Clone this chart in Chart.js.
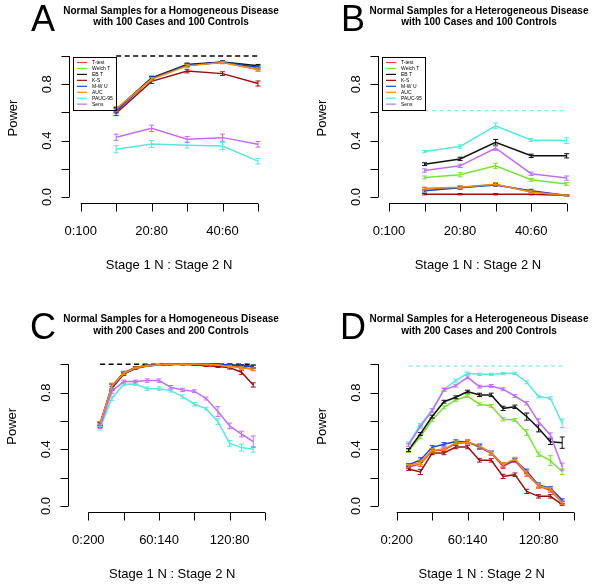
<!DOCTYPE html>
<html>
<head>
<meta charset="utf-8">
<script src="https://cdn.jsdelivr.net/npm/chart.js@4.4.1/dist/chart.umd.min.js"></script>
<style>
  html, body { margin: 0; padding: 0; background: #fff; }
  #wrap { position: relative; width: 600px; height: 588px; }
  canvas { position: absolute; }
</style>
</head>
<body>
<div id="wrap">
  <canvas id="cA" width="300" height="294" style="left:0;top:0"></canvas>
  <canvas id="cB" width="300" height="294" style="left:300px;top:0"></canvas>
  <canvas id="cC" width="300" height="294" style="left:0;top:294px"></canvas>
  <canvas id="cD" width="300" height="294" style="left:300px;top:294px"></canvas>
</div>
<script>
const methods = ['T-test', 'Welch T', 'EB T', 'K-S', 'M-W U', 'AUC', 'PAUC-95', 'Sens'];
const colors = ['#EE4040', '#7CE03C', '#111111', '#9B1111', '#2040D0', '#F08C10', '#5CE6DC', '#C070F0'];

// stage 1 sample sizes
const stage100 = [10, 20, 30, 40, 50];
const stage200 = [10, 20, 30, 40, 50, 60, 70, 80, 90, 100, 110, 120, 130, 140];

const ticks100 = [0, 10, 20, 30, 40, 50];
const labelAt100 = [0, 20, 40];
const labelText100 = ['0:100', '20:80', '40:60'];
const ticks200 = [0, 30, 60, 90, 120, 150];
const labelAt200 = [0, 60, 120];
const labelText200 = ['0:200', '60:140', '120:80'];
const yTicks = [0, 0.2, 0.4, 0.6, 0.8, 1.0];
const yLabelAt = [0, 0.4, 0.8];
const yLabelText = ['0.0', '0.4', '0.8'];

// power, one row per method (same order as methods)
const powerA = [
  [0.615, 0.840, 0.935, 0.955, 0.905],
  [0.615, 0.840, 0.935, 0.955, 0.915],
  [0.620, 0.845, 0.940, 0.958, 0.930],
  [0.595, 0.820, 0.893, 0.875, 0.805],
  [0.610, 0.840, 0.935, 0.955, 0.920],
  [0.625, 0.835, 0.930, 0.953, 0.905],
  [0.339, 0.376, 0.367, 0.362, 0.254],
  [0.424, 0.487, 0.409, 0.421, 0.374]
];
const errA = [
  [0.015, 0.012, 0.010, 0.008, 0.012],
  [0.015, 0.012, 0.010, 0.008, 0.012],
  [0.015, 0.012, 0.010, 0.008, 0.010],
  [0.018, 0.015, 0.013, 0.013, 0.018],
  [0.015, 0.012, 0.010, 0.008, 0.012],
  [0.016, 0.012, 0.010, 0.008, 0.012],
  [0.025, 0.025, 0.020, 0.025, 0.020],
  [0.022, 0.022, 0.020, 0.025, 0.020]
];
const powerB = [
  [0.058, 0.068, 0.088, 0.038, 0.012],
  [0.139, 0.158, 0.221, 0.122, 0.092],
  [0.233, 0.270, 0.388, 0.292, 0.292],
  [0.020, 0.020, 0.020, 0.020, 0.010],
  [0.045, 0.065, 0.085, 0.045, 0.010],
  [0.060, 0.070, 0.090, 0.035, 0.010],
  [0.322, 0.358, 0.504, 0.405, 0.400],
  [0.188, 0.221, 0.346, 0.165, 0.134]
];
const errB = [
  [0.010, 0.010, 0.012, 0.010, 0.005],
  [0.010, 0.015, 0.018, 0.010, 0.010],
  [0.010, 0.012, 0.020, 0.012, 0.015],
  [0.005, 0.005, 0.005, 0.005, 0.003],
  [0.010, 0.010, 0.010, 0.010, 0.005],
  [0.010, 0.010, 0.012, 0.010, 0.005],
  [0.008, 0.012, 0.020, 0.010, 0.020],
  [0.012, 0.012, 0.015, 0.012, 0.015]
];
const powerC = [
  [0.580, 0.840, 0.935, 0.975, 0.990, 0.996, 1.0, 1.0, 1.0, 1.0, 0.998, 0.990, 0.980, 0.965],
  [0.575, 0.840, 0.935, 0.975, 0.990, 0.996, 1.0, 1.0, 1.0, 1.0, 0.998, 0.995, 0.990, 0.985],
  [0.580, 0.845, 0.940, 0.978, 0.992, 0.997, 1.0, 1.0, 1.0, 1.0, 0.999, 0.996, 0.990, 0.985],
  [0.565, 0.830, 0.930, 0.970, 0.988, 0.995, 0.998, 0.998, 0.995, 0.990, 0.985, 0.976, 0.944, 0.854],
  [0.575, 0.840, 0.935, 0.975, 0.990, 0.996, 1.0, 1.0, 1.0, 1.0, 0.998, 0.993, 0.990, 0.982],
  [0.585, 0.845, 0.937, 0.975, 0.990, 0.996, 1.0, 1.0, 1.0, 0.998, 0.995, 0.985, 0.975, 0.965],
  [0.548, 0.760, 0.859, 0.861, 0.828, 0.828, 0.814, 0.772, 0.718, 0.687, 0.595, 0.442, 0.412, 0.400],
  [0.560, 0.810, 0.878, 0.878, 0.885, 0.885, 0.838, 0.819, 0.810, 0.758, 0.666, 0.565, 0.508, 0.454]
];
const errC = [
  [0.012, 0.020, 0.010, 0.006, 0.004, 0.003, 0.002, 0.002, 0.002, 0.003, 0.004, 0.006, 0.008, 0.010],
  [0.012, 0.020, 0.010, 0.006, 0.004, 0.003, 0.002, 0.002, 0.002, 0.003, 0.004, 0.006, 0.008, 0.010],
  [0.012, 0.020, 0.010, 0.006, 0.004, 0.003, 0.002, 0.002, 0.002, 0.003, 0.004, 0.006, 0.008, 0.010],
  [0.012, 0.015, 0.010, 0.006, 0.004, 0.003, 0.003, 0.003, 0.004, 0.006, 0.008, 0.010, 0.015, 0.015],
  [0.012, 0.020, 0.010, 0.006, 0.004, 0.003, 0.002, 0.002, 0.002, 0.003, 0.004, 0.006, 0.008, 0.010],
  [0.012, 0.020, 0.010, 0.006, 0.004, 0.003, 0.002, 0.002, 0.002, 0.003, 0.004, 0.006, 0.008, 0.010],
  [0.012, 0.015, 0.010, 0.010, 0.012, 0.012, 0.010, 0.012, 0.012, 0.010, 0.020, 0.020, 0.025, 0.020],
  [0.012, 0.015, 0.010, 0.010, 0.012, 0.012, 0.012, 0.012, 0.010, 0.010, 0.035, 0.020, 0.020, 0.040]
];
const powerD = [
  [0.275, 0.295, 0.390, 0.395, 0.440, 0.450, 0.415, 0.370, 0.280, 0.320, 0.225, 0.140, 0.110, 0.025],
  [0.388, 0.489, 0.607, 0.696, 0.748, 0.776, 0.718, 0.706, 0.612, 0.607, 0.518, 0.365, 0.320, 0.242],
  [0.395, 0.508, 0.631, 0.736, 0.767, 0.807, 0.784, 0.784, 0.689, 0.700, 0.631, 0.548, 0.454, 0.447],
  [0.261, 0.240, 0.374, 0.374, 0.416, 0.416, 0.322, 0.322, 0.209, 0.221, 0.103, 0.068, 0.068, 0.010],
  [0.289, 0.325, 0.414, 0.435, 0.455, 0.454, 0.419, 0.376, 0.289, 0.325, 0.245, 0.148, 0.125, 0.042],
  [0.284, 0.308, 0.392, 0.402, 0.445, 0.450, 0.425, 0.374, 0.291, 0.332, 0.233, 0.143, 0.120, 0.021],
  [0.442, 0.572, 0.678, 0.824, 0.885, 0.936, 0.929, 0.929, 0.934, 0.936, 0.873, 0.772, 0.760, 0.584],
  [0.431, 0.560, 0.673, 0.819, 0.849, 0.908, 0.842, 0.847, 0.824, 0.776, 0.725, 0.595, 0.501, 0.278]
];
const errD = [
  [0.010, 0.015, 0.012, 0.012, 0.012, 0.012, 0.015, 0.012, 0.015, 0.012, 0.015, 0.015, 0.012, 0.008],
  [0.010, 0.015, 0.010, 0.010, 0.010, 0.010, 0.010, 0.010, 0.012, 0.010, 0.020, 0.015, 0.035, 0.020],
  [0.010, 0.010, 0.010, 0.010, 0.010, 0.010, 0.012, 0.012, 0.015, 0.012, 0.025, 0.025, 0.020, 0.040],
  [0.010, 0.018, 0.012, 0.012, 0.012, 0.012, 0.012, 0.012, 0.015, 0.012, 0.015, 0.012, 0.012, 0.005],
  [0.010, 0.015, 0.012, 0.012, 0.012, 0.012, 0.015, 0.012, 0.015, 0.012, 0.015, 0.015, 0.012, 0.008],
  [0.010, 0.015, 0.012, 0.012, 0.012, 0.012, 0.015, 0.012, 0.015, 0.012, 0.015, 0.015, 0.012, 0.008],
  [0.010, 0.010, 0.010, 0.010, 0.010, 0.008, 0.008, 0.008, 0.008, 0.008, 0.010, 0.010, 0.010, 0.030],
  [0.012, 0.010, 0.012, 0.010, 0.010, 0.010, 0.010, 0.010, 0.010, 0.010, 0.012, 0.020, 0.015, 0.025]
];

// dashed reference level per panel
const refA = 1.0, refB = 0.612, refC = 1.0, refD = 0.988;

const FONT = '"Liberation Sans", Arial, sans-serif';

// R-style axes, error bars, titles and legend
const rStyle = {
  id: 'rStyle',
  afterDatasetDraw(chart, args) {
    const ds = chart.data.datasets[args.index];
    if (!ds.err) return;
    const x = chart.scales.x, y = chart.scales.y, ctx = chart.ctx;
    ctx.save();
    ctx.strokeStyle = ds.borderColor;
    ctx.lineWidth = 1;
    ds.data.forEach((p, i) => {
      const px = x.getPixelForValue(p.x);
      const lo = y.getPixelForValue(p.y - ds.err[i]);
      const hi = y.getPixelForValue(p.y + ds.err[i]);
      ctx.beginPath();
      ctx.moveTo(px, lo); ctx.lineTo(px, hi);
      ctx.moveTo(px - 2.5, lo); ctx.lineTo(px + 2.5, lo);
      ctx.moveTo(px - 2.5, hi); ctx.lineTo(px + 2.5, hi);
      ctx.stroke();
    });
    ctx.restore();
  },
  afterDraw(chart, args, o) {
    const ctx = chart.ctx, x = chart.scales.x, y = chart.scales.y, a = chart.chartArea;
    ctx.save();
    ctx.strokeStyle = '#000';
    ctx.fillStyle = '#000';
    ctx.lineWidth = 1;

    // x axis
    const xb = Math.round(a.bottom) + 0.5;
    ctx.beginPath();
    ctx.moveTo(x.getPixelForValue(o.xTicks[0]), xb);
    ctx.lineTo(x.getPixelForValue(o.xTicks[o.xTicks.length - 1]), xb);
    o.xTicks.forEach(t => {
      const p = Math.round(x.getPixelForValue(t)) + 0.5;
      ctx.moveTo(p, xb); ctx.lineTo(p, xb + 8);
    });
    // y axis
    const yl = Math.round(a.left) + 0.5;
    ctx.moveTo(yl, y.getPixelForValue(yTicks[0]));
    ctx.lineTo(yl, y.getPixelForValue(yTicks[yTicks.length - 1]));
    yTicks.forEach(t => {
      const p = Math.round(y.getPixelForValue(t)) + 0.5;
      ctx.moveTo(yl, p); ctx.lineTo(yl - 8, p);
    });
    ctx.stroke();

    ctx.font = '13px ' + FONT;
    ctx.textAlign = 'center';
    ctx.textBaseline = 'middle';
    o.labelAt.forEach((v, i) => ctx.fillText(o.labelText[i], x.getPixelForValue(v), xb + 28));
    ctx.fillText('Stage 1 N : Stage 2 N', (a.left + a.right) / 2 + 2, xb + 62);

    yLabelAt.forEach((v, i) => {
      ctx.save();
      ctx.translate(yl - 22, y.getPixelForValue(v));
      ctx.rotate(-Math.PI / 2);
      ctx.fillText(yLabelText[i], 0, 0);
      ctx.restore();
    });
    ctx.save();
    ctx.translate(yl - 56, 118 + o.dy);
    ctx.rotate(-Math.PI / 2);
    ctx.fillText('Power', 0, 0);
    ctx.restore();

    // titles
    ctx.font = 'bold 10px ' + FONT;
    ctx.fillText(o.title[0], o.titleX, 11 + o.dy);
    ctx.fillText(o.title[1], o.titleX, 22.5 + o.dy);
    ctx.font = '36px ' + FONT;
    ctx.fillText(o.letter, o.letterX, 21 + o.dy);

    // legend
    if (o.legend) {
      const bx = yl + 3.5, by = 57 + o.dy, bw = 43, bh = 53;
      ctx.strokeRect(Math.round(bx) + 0.5, Math.round(by) + 0.5, bw, bh);
      ctx.font = '5px ' + FONT;
      ctx.textAlign = 'left';
      methods.forEach((m, i) => {
        const ry = by + 5.5 + i * 5.95;
        ctx.strokeStyle = colors[i];
        ctx.lineWidth = 1.2;
        ctx.beginPath();
        ctx.moveTo(bx + 4, ry); ctx.lineTo(bx + 14, ry);
        ctx.stroke();
        ctx.fillText(m, bx + 19, ry);
      });
    }
    ctx.restore();
  }
};

function makePanel(id, xs, power, err, ref, refColor, scale, pad, opts) {
  const datasets = methods.map((m, i) => ({
    label: m,
    data: xs.map((v, j) => ({ x: v, y: power[i][j] })),
    err: err[i],
    borderColor: colors[i],
    borderWidth: 1.5,
    pointRadius: 0,
    fill: false,
    tension: 0,
    order: methods.length - i
  }));
  datasets.push({
    label: 'reference',
    data: [{ x: xs[0], y: ref }, { x: xs[xs.length - 1], y: ref }],
    borderColor: refColor,
    borderWidth: refColor === '#000000' ? 1.4 : 1.1,
    borderDash: refColor === '#000000' ? [5, 3.5] : [4, 3.5],
    pointRadius: 0,
    order: 100
  });
  new Chart(document.getElementById(id), {
    type: 'line',
    data: { datasets },
    options: {
      responsive: false,
      animation: false,
      layout: { padding: pad },
      scales: {
        x: { type: 'linear', min: scale[0], max: scale[1], display: false },
        y: { min: scale[2], max: scale[3], display: false }
      },
      plugins: {
        legend: { display: false },
        tooltip: { enabled: false },
        rStyle: opts
      }
    },
    plugins: [rStyle]
  });
}

makePanel('cA', stage100, powerA, errA, refA, '#000000',
  [-3.3, 52.0, -0.0447, 1.0397],
  { left: 69, right: 34.9, top: 50.4, bottom: 90.7 },
  { xTicks: ticks100, labelAt: labelAt100, labelText: labelText100, dy: 0,
    title: ['Normal Samples for a Homogeneous Disease', 'with 100 Cases and 100 Controls'],
    titleX: 171, letter: 'A', letterX: 43, legend: true });

makePanel('cB', stage100, powerB, errB, refB, '#5CE6DC',
  [-3.1, 52.0, -0.0447, 1.0397],
  { left: 78, right: 26.2, top: 50.4, bottom: 90.7 },
  { xTicks: ticks100, labelAt: labelAt100, labelText: labelText100, dy: 0,
    title: ['Normal Samples for a Heterogeneous Disease', 'with 100 Cases and 100 Controls'],
    titleX: 179, letter: 'B', letterX: 53, legend: true });

makePanel('cC', stage200, powerC, errC, refC, '#000000',
  [-17.0, 156, -0.0402, 1.04],
  { left: 68.3, right: 27.9, top: 64.6, bottom: 76.3 },
  { xTicks: ticks200, labelAt: labelAt200, labelText: labelText200, dy: 14.3,
    title: ['Normal Samples for a Homogeneous Disease', 'with 200 Cases and 200 Controls'],
    titleX: 171, letter: 'C', letterX: 43, legend: false });

makePanel('cD', stage200, powerD, errD, refD, '#5CE6DC',
  [-15.57, 156, -0.0402, 1.04],
  { left: 78.3, right: 18.9, top: 64.6, bottom: 76.3 },
  { xTicks: ticks200, labelAt: labelAt200, labelText: labelText200, dy: 14.3,
    title: ['Normal Samples for a Heterogeneous Disease', 'with 200 Cases and 200 Controls'],
    titleX: 179, letter: 'D', letterX: 53, legend: false });
</script>
</body>
</html>
